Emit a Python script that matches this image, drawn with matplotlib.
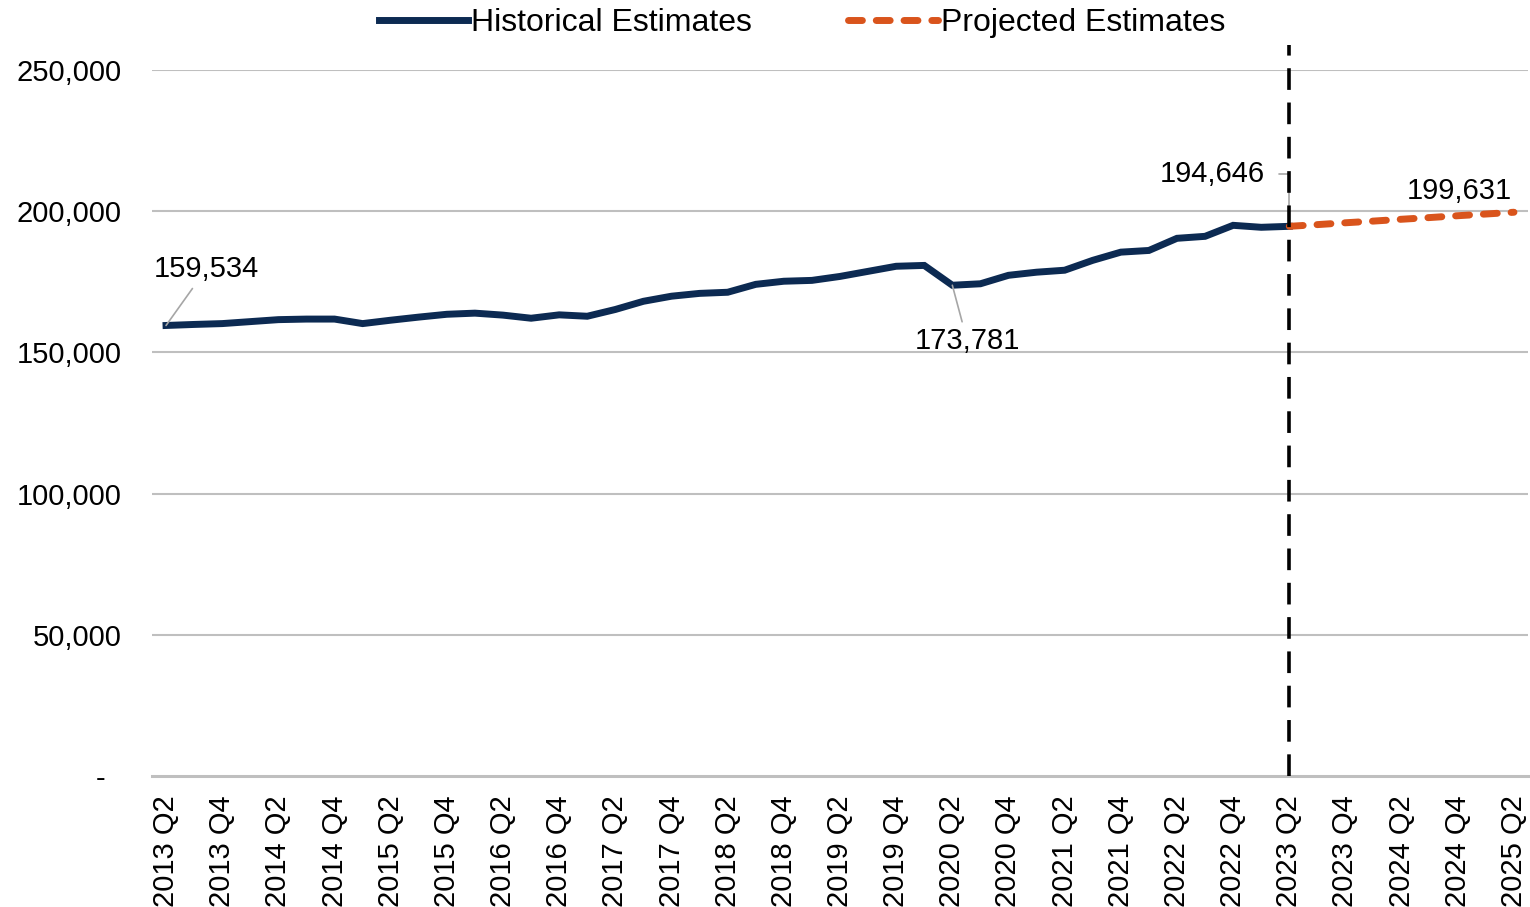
import numpy as np
import matplotlib
matplotlib.use('Agg')
import matplotlib.pyplot as plt

plt.rcParams['font.family'] = ['Liberation Sans', 'DejaVu Sans']

# quarters from 2013 Q2 to 2025 Q2
quarters = []
for yr in range(2013, 2026):
    for q in range(1, 5):
        if (yr == 2013 and q < 2) or (yr == 2025 and q > 2):
            continue
        quarters.append(str(yr) + ' Q' + str(q))

historical = [159534, 159900, 160200, 160900, 161600, 161800, 161800, 160200,
              161400, 162500, 163500, 163900, 163200, 162100, 163300, 162800,
              165200, 168100, 169900, 170900, 171300, 174100, 175200, 175500,
              176900, 178700, 180500, 180800, 173781, 174300, 177300, 178400,
              179100, 182600, 185500, 186100, 190400, 191100, 195000, 194300,
              194646]
projected = [194646, 195250, 195900, 196500, 197150, 197750, 198400, 199000,
             199631]
y_ticks = [0, 50000, 100000, 150000, 200000, 250000]

hist_x = np.arange(len(historical))
proj_x = np.arange(len(historical) - 1, len(historical) - 1 + len(projected))
split_idx = len(historical) - 1

navy = '#0c2a52'
orange = '#d9541c'
grid_gray = '#bfbfbf'
label_gray = '#a6a6a6'
fs = 21

fig = plt.figure(figsize=(15.3, 9.07), dpi=100)
ax = fig.add_axes([152/1530, 1 - 776/907, 1376/1530, 706/907])

for v in y_ticks[1:]:
    ax.axhline(v, color=grid_gray, lw=1.5, zorder=0)

ax.plot(hist_x, historical, color=navy, lw=5, solid_joinstyle='miter',
        label='Historical Estimates', zorder=3)
ax.plot(proj_x, projected, color=orange, lw=5, dashes=(2.0, 2.0),
        dash_capstyle='round', label='Projected Estimates', zorder=3)

# forecast start marker
ax.axvline(split_idx, ymin=0, ymax=1.035, color='black', lw=2.6,
           dashes=(6, 3.5), clip_on=False, zorder=4)

ax.set_xlim(-0.5, len(quarters) - 0.5)
ax.set_ylim(0, 250000)
ax.set_yticks(y_ticks)
ax.set_yticklabels(['-  '] + ['{:,}'.format(v) for v in y_ticks[1:]])
ax.set_xticks(np.arange(0, len(quarters), 2))
ax.set_xticklabels(quarters[::2], rotation=90)
ax.tick_params(axis='y', length=0, pad=22, labelsize=fs)
ax.tick_params(axis='x', length=0, pad=14, labelsize=fs)

for s in ['top', 'right', 'left']:
    ax.spines[s].set_visible(False)
ax.spines['bottom'].set_color(grid_gray)
ax.spines['bottom'].set_linewidth(2.2)

# data labels
ap = dict(arrowstyle='-', color=label_gray, lw=1.2, shrinkA=2, shrinkB=0)
ax.annotate('{:,}'.format(historical[0]), xy=(0, historical[0]),
            xytext=(40, 56), textcoords='offset pixels', ha='center',
            va='center', fontsize=fs, arrowprops=ap)
low_idx = 28
ax.annotate('{:,}'.format(historical[low_idx]), xy=(low_idx, historical[low_idx]),
            xytext=(15, -56), textcoords='offset pixels', ha='center',
            va='center', fontsize=fs, arrowprops=ap)
ap2 = dict(ap, connectionstyle='angle,angleA=0,angleB=90,rad=0',
           relpos=(1, 0.5), shrinkA=8)
ax.annotate('{:,}'.format(historical[-1]), xy=(split_idx, historical[-1]),
            xytext=(-77, 52), textcoords='offset pixels', ha='center',
            va='center', fontsize=fs, arrowprops=ap2)
ax.annotate('{:,}'.format(projected[-1]), xy=(proj_x[-1], projected[-1]),
            xytext=(-55, 21), textcoords='offset pixels', ha='center',
            va='center', fontsize=fs)

fig.legend(loc='center', bbox_to_anchor=(802/1530, 1 - 23/907), ncol=2,
           frameon=False, fontsize=23, handlelength=2.8,
           handletextpad=0.1, columnspacing=3.0)

fig.savefig('out.png', dpi=100)
